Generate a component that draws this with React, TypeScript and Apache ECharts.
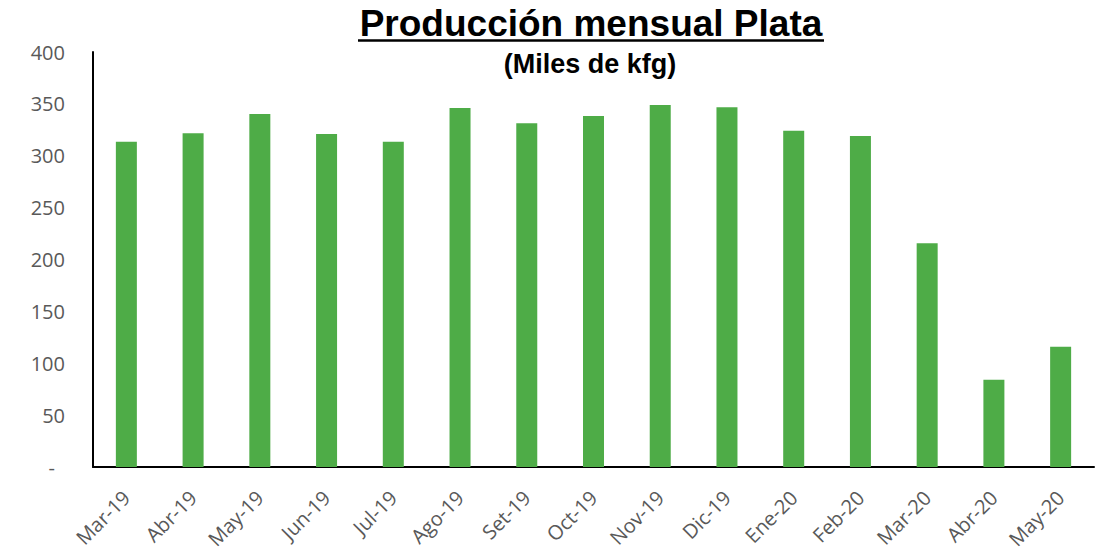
import React, { useEffect, useRef } from "react";
import * as echarts from "echarts";

const categories = [
  "Mar-19", "Abr-19", "May-19", "Jun-19", "Jul-19", "Ago-19", "Set-19", "Oct-19",
  "Nov-19", "Dic-19", "Ene-20", "Feb-20", "Mar-20", "Abr-20", "May-20",
];
const produccion = [
  313.6, 321.7, 340.3, 321.0, 313.6, 346.0, 331.3, 338.3,
  348.9, 346.7, 324.2, 319.1, 215.7, 84.1, 115.9,
];
const yTicks = { min: 0, max: 400, interval: 50 };
const titleText = "Producción mensual Plata";
const subtitleText = "(Miles de kfg)";

export default function App() {
  const ref = useRef<HTMLDivElement>(null);
  useEffect(() => {
    if (!ref.current) return;
    const chart = echarts.init(ref.current, null, { renderer: "svg" });
    chart.setOption({
      animation: false,
      backgroundColor: "#ffffff",
      grid: { left: 93, right: 19, top: 52, bottom: 88, containLabel: false },
      graphic: [
        {
          type: "text",
          style: {
            x: 591,
            y: 23,
            text: titleText,
            font: "bold 37px 'Liberation Sans', Arial, sans-serif",
            fill: "#000000",
            align: "center",
            verticalAlign: "middle",
          },
        },
        {
          type: "line",
          shape: { x1: 358, y1: 40.5, x2: 824, y2: 40.5 },
          style: { stroke: "#000000", lineWidth: 2.5 },
        },
        {
          type: "text",
          style: {
            x: 590,
            y: 64,
            text: subtitleText,
            font: "bold 27px 'Liberation Sans', Arial, sans-serif",
            fill: "#000000",
            align: "center",
            verticalAlign: "middle",
          },
        },
      ],
      xAxis: {
        type: "category",
        data: categories,
        axisLine: { show: true, lineStyle: { color: "#000000", width: 2 } },
        axisTick: { show: false },
        axisLabel: {
          rotate: 45,
          margin: 27,
          color: "#595959",
          fontSize: 20,
          fontFamily: "'Open Sans', sans-serif",
          interval: 0,
        },
      },
      yAxis: {
        type: "value",
        min: yTicks.min,
        max: yTicks.max,
        interval: yTicks.interval,
        axisLine: { show: true, lineStyle: { color: "#000000", width: 2 } },
        axisTick: { show: false },
        splitLine: { show: false },
        axisLabel: {
          margin: 28,
          color: "#595959",
          fontSize: 20,
          fontFamily: "'Open Sans', sans-serif",
          formatter: (v: number) => (v === 0 ? "{z|-}" : String(v)),
          rich: {
            z: {
              color: "#595959",
              fontSize: 20,
              fontFamily: "'Open Sans', sans-serif",
              padding: [0, 10, 0, 0],
            },
          },
        },
      },
      series: [
        {
          type: "bar",
          data: produccion,
          barWidth: 21,
          itemStyle: { color: "#4EAC47" },
        },
      ],
    });
    return () => chart.dispose();
  }, []);
  return (
    <div
      ref={ref}
      style={{ position: "fixed", left: 0, top: 0, width: 1113, height: 555 }}
    />
  );
}
